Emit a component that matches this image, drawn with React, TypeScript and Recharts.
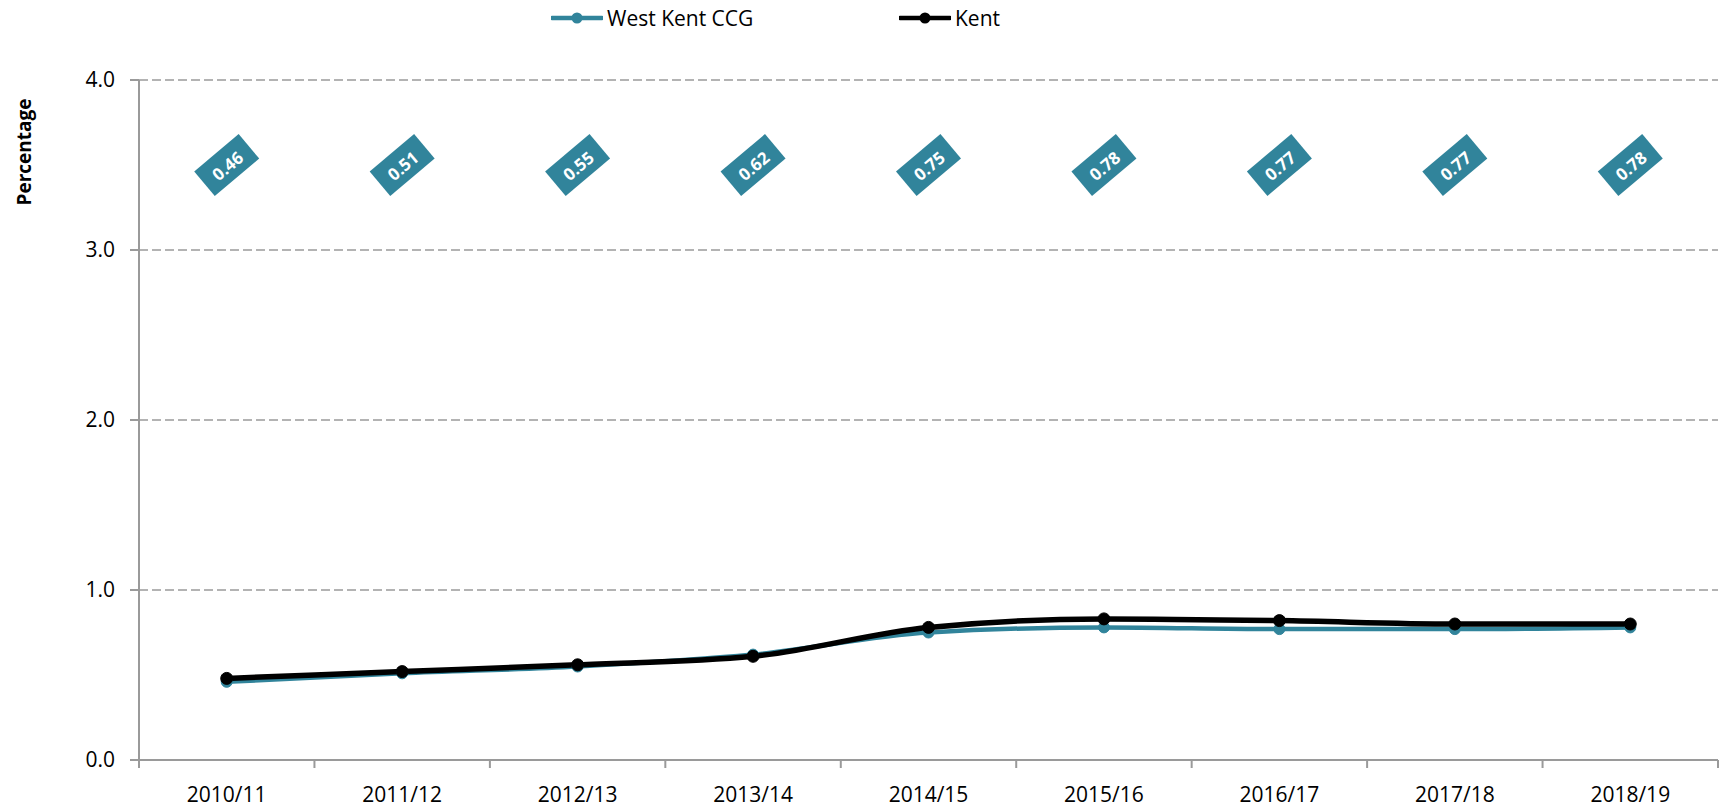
import React from "react";
import { LineChart, Line, XAxis, YAxis, CartesianGrid, Legend, LabelList } from "recharts";

const categories = ["2010/11", "2011/12", "2012/13", "2013/14", "2014/15", "2015/16", "2016/17", "2017/18", "2018/19"];
const westKent = [0.46, 0.51, 0.55, 0.62, 0.75, 0.78, 0.77, 0.77, 0.78];
const kent = [0.48, 0.52, 0.56, 0.61, 0.78, 0.83, 0.82, 0.80, 0.80];
const yTicks = [0, 1, 2, 3, 4];

const data = categories.map((c, i) => ({ name: c, westKent: westKent[i], kent: kent[i] }));

const W = 1726;
const H = 808;
const M = { top: 80, right: 8, left: 0, bottom: 0 };
const YW = 139;
const XH = 48;
const PLOT_LEFT = M.left + YW;
const PLOT_RIGHT = W - M.right;
const PLOT_TOP = M.top;
const PLOT_BOTTOM = H - M.bottom - XH;
const BW = (PLOT_RIGHT - PLOT_LEFT) / categories.length;
const LABEL_Y = PLOT_TOP + ((PLOT_BOTTOM - PLOT_TOP) * (4 - 3.5)) / 4;

const TEAL = "#31849B";
const GRAY = "#9a9a9a";
const FONT = "'Open Sans', sans-serif";

const XTick = (props: any) => {
  const { x, payload, index } = props;
  const y0 = PLOT_BOTTOM;
  return (
    <g>
      {index === 0 && (
        <line x1={x - BW / 2} x2={x - BW / 2} y1={y0} y2={y0 + 8} stroke={GRAY} strokeWidth={2} />
      )}
      <line x1={x + BW / 2} x2={x + BW / 2} y1={y0} y2={y0 + 8} stroke={GRAY} strokeWidth={2} />
      <text x={x} y={y0 + 27} dy="0.71em" textAnchor="middle" fontSize={21} fontFamily={FONT} fill="#000">
        {payload.value}
      </text>
    </g>
  );
};

const DataLabel = (props: any) => {
  const { x, value } = props;
  return (
    <g transform={`translate(${x},${LABEL_Y}) rotate(-40)`}>
      <rect x={-29} y={-16} width={58} height={32} fill={TEAL} />
      <text x={0} y={1} textAnchor="middle" dominantBaseline="central" fill="#fff" fontWeight="bold" fontSize={17} fontFamily={FONT}>
        {Number(value).toFixed(2)}
      </text>
    </g>
  );
};

const LegendContent = () => {
  const item = (left: number, color: string, label: string) => (
    <div style={{ position: "absolute", left, top: 0, display: "flex", alignItems: "center", whiteSpace: "nowrap" }}>
      <svg width={52} height={20} style={{ display: "block" }}>
        <line x1={1} x2={51} y1={10} y2={10} stroke={color} strokeWidth={4.5} strokeLinecap="round" />
        <circle cx={26} cy={10} r={5.5} fill={color} />
      </svg>
      <span style={{ fontFamily: FONT, fontSize: 21, color: "#000", marginLeft: 4, lineHeight: "20px" }}>{label}</span>
    </div>
  );
  return (
    <div style={{ position: "relative", width: W, height: 0, overflow: "visible" }}>
      {item(551, TEAL, "West Kent CCG")}
      {item(899, "#000", "Kent")}
    </div>
  );
};

const YLabel = () => (
  <text
    x={24}
    y={152}
    transform="rotate(-90, 24, 152)"
    textAnchor="middle"
    dominantBaseline="central"
    fontSize={19}
    fontWeight="bold"
    fontFamily={FONT}
    fill="#000"
  >
    Percentage
  </text>
);

export default function App() {
  return (
    <div style={{ position: "absolute", left: 0, top: 0, background: "#fff" }}>
      <LineChart width={W} height={H} data={data} margin={M}>
        <CartesianGrid vertical={false} strokeDasharray="9 4" stroke={GRAY} strokeWidth={1.5} />
        <XAxis
          dataKey="name"
          scale="band"
          height={XH}
          axisLine={{ stroke: GRAY, strokeWidth: 2 }}
          tickLine={false}
          tick={<XTick />}
          interval={0}
        />
        <YAxis
          width={YW}
          domain={[0, 4]}
          ticks={yTicks}
          tickFormatter={(v: number) => v.toFixed(1)}
          tick={{ fontSize: 21, fill: "#000", fontFamily: FONT }}
          tickSize={9}
          tickMargin={15}
          axisLine={{ stroke: GRAY, strokeWidth: 2 }}
          tickLine={{ stroke: GRAY, strokeWidth: 2 }}
          label={<YLabel />}
        />
        <Legend verticalAlign="top" content={<LegendContent />} wrapperStyle={{ top: 8, left: 0, width: W, height: 0 }} />
        <Line
          type="monotone"
          dataKey="westKent"
          name="West Kent CCG"
          stroke={TEAL}
          strokeWidth={4.5}
          dot={{ r: 5.5, fill: TEAL, stroke: TEAL, strokeWidth: 1 }}
          isAnimationActive={false}
        >
          <LabelList dataKey="westKent" content={<DataLabel />} />
        </Line>
        <Line
          type="monotone"
          dataKey="kent"
          name="Kent"
          stroke="#000"
          strokeWidth={5.5}
          dot={{ r: 6, fill: "#000", stroke: "#000", strokeWidth: 1 }}
          isAnimationActive={false}
        />
      </LineChart>
    </div>
  );
}
